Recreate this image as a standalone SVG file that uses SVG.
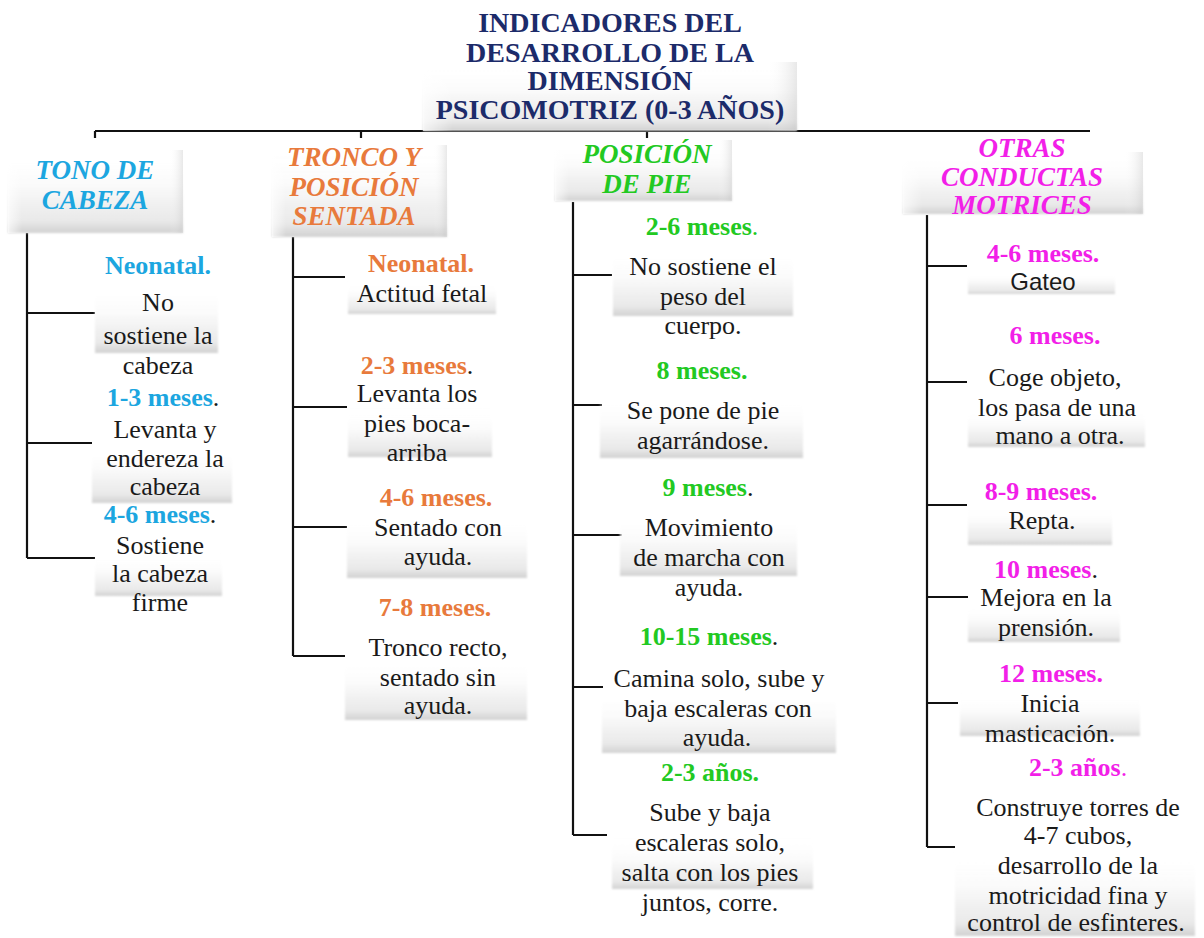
<svg xmlns="http://www.w3.org/2000/svg" width="1204" height="938" viewBox="0 0 1204 938" font-family="'Liberation Serif', 'DejaVu Serif', serif">
  <defs>
    <!-- soft bevel: white top fading to light grey at the bottom edge -->
    <linearGradient id="shade" x1="0" y1="0" x2="0" y2="1">
      <stop offset="0" stop-color="#ffffff" stop-opacity="0"/>
      <stop offset="0.4" stop-color="#fbfbfb"/>
      <stop offset="0.85" stop-color="#e9e9e9"/>
      <stop offset="1" stop-color="#d2d2d2"/>
    </linearGradient>
    <linearGradient id="edge" x1="0" y1="0" x2="1" y2="0">
      <stop offset="0" stop-color="#ffffff" stop-opacity="0.7"/>
      <stop offset="0.08" stop-color="#ffffff" stop-opacity="0"/>
      <stop offset="0.92" stop-color="#ffffff" stop-opacity="0"/>
      <stop offset="1" stop-color="#bdbdbd" stop-opacity="0.35"/>
    </linearGradient>
    <filter id="soft" x="-5%" y="-5%" width="110%" height="115%">
      <feGaussianBlur stdDeviation="0.8"/>
    </filter>
    <style>
      .box { fill: url(#shade); filter: url(#soft); }
      .rim { fill: url(#edge); }
      .ln { stroke: #111; stroke-width: 2.2; fill: none; }
      text { font-family: 'Liberation Serif', 'DejaVu Serif', serif; text-anchor: middle; }
      .title { font-size: 28px; font-weight: bold; fill: #1c2b6a; }
      .hd { font-size: 27px; font-weight: bold; font-style: italic; }
      .lb { font-size: 26px; font-weight: bold; }
      .tx { font-size: 26px; fill: #1a1a1a; }
      text.sans { font-family: 'Liberation Sans', Arial, sans-serif; font-size: 24px; }
      .dot { fill: #1a1a1a; font-weight: normal; }
      .thin { font-weight: normal; }
      .c1 { fill: #1ca6e0; }
      .c2 { fill: #e87a3c; }
      .c3 { fill: #22c922; }
      .c4 { fill: #f21fe8; }
    </style>
  </defs>

  <rect width="1204" height="938" fill="#ffffff"/>

  <!-- connectors -->
  <g id="connectors">
    <path class="ln" d="M95 131 H1090 M95 131 V138 M361 131 V138 M647 131 V138"/>
    <!-- tono de cabeza -->
    <path class="ln" d="M27 233 V558 M27 313 H95 M27 443 H92 M27 558 H95"/>
    <!-- tronco y posicion sentada -->
    <path class="ln" d="M293 237 V656 M293 277 H345 M293 407 H347 M293 527 H347 M293 656 H345"/>
    <!-- posicion de pie -->
    <path class="ln" d="M573 202 V835 M573 275 H612 M573 405 H602 M573 535 H622 M573 687 H603 M573 835 H607"/>
    <!-- otras conductas motrices -->
    <path class="ln" d="M927 215 V847 M927 266 H967 M927 382 H967 M927 505 H967 M927 597 H968 M927 703 H958 M927 847 H955"/>
  </g>

  <!-- title -->
  <g id="title">
    <rect class="box" x="423" y="62" width="374" height="69"/>
    <rect class="rim" x="423" y="62" width="374" height="69"/>
    <text class="title" x="610" y="32">INDICADORES DEL</text>
    <text class="title" x="610" y="62">DESARROLLO DE LA</text>
    <text class="title" x="610" y="90">DIMENSIÓN</text>
    <text class="title" x="610" y="119">PSICOMOTRIZ (0-3 AÑOS)</text>
  </g>

  <!-- column headers -->
  <g id="head-tono">
    <rect class="box" x="8" y="150" width="175" height="83"/>
    <rect class="rim" x="8" y="150" width="175" height="83"/>
    <text class="hd c1" x="95" y="179">TONO DE</text>
    <text class="hd c1" x="95" y="209">CABEZA</text>
  </g>
  <g id="head-tronco">
    <rect class="box" x="272" y="145" width="175" height="92"/>
    <rect class="rim" x="272" y="145" width="175" height="92"/>
    <text class="hd c2" x="354" y="166">TRONCO Y</text>
    <text class="hd c2" x="354" y="196">POSICIÓN</text>
    <text class="hd c2" x="354" y="225">SENTADA</text>
  </g>
  <g id="head-pie">
    <rect class="box" x="555" y="140" width="177" height="61"/>
    <rect class="rim" x="555" y="140" width="177" height="61"/>
    <text class="hd c3" x="647" y="163">POSICIÓN</text>
    <text class="hd c3" x="647" y="193">DE PIE</text>
  </g>
  <g id="head-otras">
    <rect class="box" x="903" y="152" width="240" height="62"/>
    <rect class="rim" x="903" y="152" width="240" height="62"/>
    <text class="hd c4" x="1022" y="157">OTRAS</text>
    <text class="hd c4" x="1022" y="186">CONDUCTAS</text>
    <text class="hd c4" x="1022" y="214">MOTRICES</text>
  </g>

  <!-- tono de cabeza items -->
  <g id="tono-neonatal">
    <rect class="box" x="95" y="285" width="123" height="68"/>
    <text class="lb c1" x="158" y="274">Neonatal.</text>
    <text class="tx" x="158" y="311">No</text>
    <text class="tx" x="158" y="344">sostiene la</text>
    <text class="tx" x="158" y="374">cabeza</text>
  </g>
  <g id="tono-1-3">
    <rect class="box" x="92" y="445" width="140" height="58"/>
    <text class="lb c1" x="163" y="406">1-3 meses<tspan class="dot">.</tspan></text>
    <text class="tx" x="165" y="438">Levanta y</text>
    <text class="tx" x="165" y="467">endereza la</text>
    <text class="tx" x="165" y="495">cabeza</text>
  </g>
  <g id="tono-4-6">
    <rect class="box" x="95" y="555" width="127" height="41"/>
    <text class="lb c1" x="160" y="523">4-6 meses<tspan class="dot">.</tspan></text>
    <text class="tx" x="160" y="554">Sostiene</text>
    <text class="tx" x="160" y="582">la cabeza</text>
    <text class="tx" x="160" y="611">firme</text>
  </g>

  <!-- tronco y posicion sentada items -->
  <g id="tronco-neonatal">
    <rect class="box" x="348" y="282" width="148" height="32"/>
    <text class="lb c2" x="421" y="272">Neonatal.</text>
    <text class="tx" x="422" y="302">Actitud fetal</text>
  </g>
  <g id="tronco-2-3">
    <rect class="box" x="348" y="410" width="144" height="47"/>
    <text class="lb c2" x="417" y="374">2-3 meses<tspan class="dot">.</tspan></text>
    <text class="tx" x="417" y="402">Levanta los</text>
    <text class="tx" x="417" y="432">pies boca-</text>
    <text class="tx" x="417" y="461">arriba</text>
  </g>
  <g id="tronco-4-6">
    <rect class="box" x="347" y="518" width="180" height="60"/>
    <text class="lb c2" x="436" y="506">4-6 meses.</text>
    <text class="tx" x="438" y="536">Sentado con</text>
    <text class="tx" x="438" y="565">ayuda.</text>
  </g>
  <g id="tronco-7-8">
    <rect class="box" x="345" y="658" width="182" height="62"/>
    <text class="lb c2" x="435" y="616">7-8 meses.</text>
    <text class="tx" x="438" y="656">Tronco recto,</text>
    <text class="tx" x="438" y="686">sentado sin</text>
    <text class="tx" x="438" y="714">ayuda.</text>
  </g>

  <!-- posicion de pie items -->
  <g id="pie-2-6">
    <rect class="box" x="613" y="250" width="180" height="66"/>
    <text class="lb c3" x="702" y="235">2-6 meses<tspan class="thin">.</tspan></text>
    <text class="tx" x="703" y="275">No sostiene el</text>
    <text class="tx" x="703" y="305">peso del</text>
    <text class="tx" x="703" y="334">cuerpo.</text>
  </g>
  <g id="pie-8">
    <rect class="box" x="600" y="398" width="203" height="60"/>
    <text class="lb c3" x="702" y="379">8 meses.</text>
    <text class="tx" x="703" y="419">Se pone de pie</text>
    <text class="tx" x="703" y="449">agarrándose.</text>
  </g>
  <g id="pie-9">
    <rect class="box" x="620" y="515" width="177" height="61"/>
    <text class="lb c3" x="708" y="496">9 meses<tspan class="dot">.</tspan></text>
    <text class="tx" x="709" y="536">Movimiento</text>
    <text class="tx" x="709" y="566">de marcha con</text>
    <text class="tx" x="709" y="596">ayuda.</text>
  </g>
  <g id="pie-10-15">
    <rect class="box" x="602" y="690" width="234" height="63"/>
    <text class="lb c3" x="709" y="645">10-15 meses<tspan class="dot">.</tspan></text>
    <text class="tx" x="719" y="687">Camina solo, sube y</text>
    <text class="tx" x="718" y="717">baja escaleras con</text>
    <text class="tx" x="717" y="746">ayuda.</text>
  </g>
  <g id="pie-2-3">
    <rect class="box" x="612" y="840" width="201" height="49"/>
    <text class="lb c3" x="710" y="781">2-3 años.</text>
    <text class="tx" x="710" y="821">Sube y baja</text>
    <text class="tx" x="710" y="851">escaleras solo,</text>
    <text class="tx" x="710" y="881">salta con los pies</text>
    <text class="tx" x="710" y="911">juntos, corre.</text>
  </g>

  <!-- otras conductas motrices items -->
  <g id="otras-4-6">
    <rect class="box" x="968" y="272" width="147" height="22"/>
    <text class="lb c4" x="1043" y="262">4-6 meses.</text>
    <text class="tx sans" x="1043" y="290">Gateo</text>
  </g>
  <g id="otras-6">
    <rect class="box" x="968" y="410" width="177" height="37"/>
    <text class="lb c4" x="1055" y="344">6 meses.</text>
    <text class="tx" x="1055" y="386">Coge objeto,</text>
    <text class="tx" x="1057" y="416">los pasa de una</text>
    <text class="tx" x="1060" y="444">mano a otra.</text>
  </g>
  <g id="otras-8-9">
    <rect class="box" x="968" y="505" width="144" height="40"/>
    <text class="lb c4" x="1041" y="500">8-9 meses.</text>
    <text class="tx" x="1042" y="529">Repta.</text>
  </g>
  <g id="otras-10">
    <rect class="box" x="968" y="605" width="152" height="37"/>
    <text class="lb c4" x="1046" y="578">10 meses<tspan class="dot">.</tspan></text>
    <text class="tx" x="1046" y="606">Mejora en la</text>
    <text class="tx" x="1046" y="636">prensión.</text>
  </g>
  <g id="otras-12">
    <rect class="box" x="960" y="695" width="180" height="41"/>
    <text class="lb c4" x="1051" y="682">12 meses.</text>
    <text class="tx" x="1050" y="712">Inicia</text>
    <text class="tx" x="1050" y="742">masticación.</text>
  </g>
  <g id="otras-2-3">
    <rect class="box" x="955" y="850" width="240" height="86"/>
    <text class="lb c4" x="1078" y="776">2-3 años<tspan class="thin">.</tspan></text>
    <text class="tx" x="1078" y="816">Construye torres de</text>
    <text class="tx" x="1078" y="844">4-7 cubos,</text>
    <text class="tx" x="1078" y="874">desarrollo de la</text>
    <text class="tx" x="1078" y="904">motricidad fina y</text>
    <text class="tx" x="1076" y="931">control de esfinteres.</text>
  </g>
</svg>
